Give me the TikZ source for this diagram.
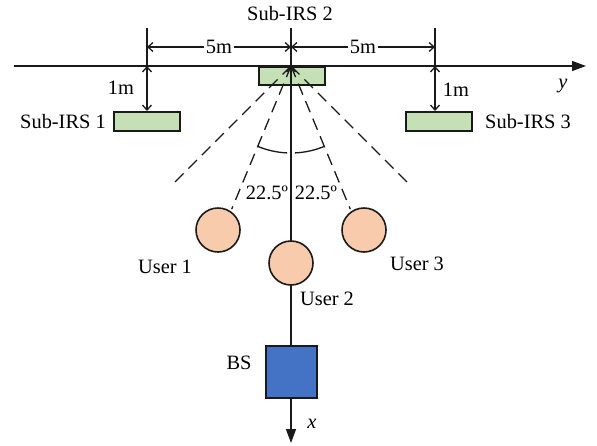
\documentclass[tikz,border=0pt]{standalone}
\usepackage{fontspec}
\setmainfont{Liberation Serif}
\usetikzlibrary{arrows.meta}
\definecolor{irsgreen}{HTML}{C5E0B4}
\definecolor{userpeach}{HTML}{F8CBAD}
\definecolor{bsblue}{HTML}{4472C4}
\definecolor{edgecol}{HTML}{1A1A1A}
\begin{document}
\begin{tikzpicture}[x=0.5pt,y=0.5pt,
  font=\fontsize{10.2}{12}\selectfont,
  thinline/.style={line width=0.65pt, draw=edgecol},
  irsbox/.style={draw=edgecol, line width=1pt, fill=irsgreen, minimum width=33pt, minimum height=9pt, inner sep=0pt},
  userdot/.style={circle, draw=edgecol, line width=0.8pt, fill=userpeach, minimum size=22pt, inner sep=0pt},
  bsbox/.style={draw=edgecol, line width=1pt, fill=bsblue, minimum width=25.5pt, minimum height=26pt, inner sep=0pt},
  dimarrow/.style={thinline, {Straight Barb[length=2.5pt,width=4.5pt]}-{Straight Barb[length=2.5pt,width=4.5pt]}},
  axisarrow/.style={thinline, -{Triangle[length=7pt,width=5pt]}},
  beam/.style={thinline, dash pattern=on 6pt off 3.5pt},
  lbl/.style={inner sep=1pt}
]
\useasboundingbox (0,0) rectangle (597,-445);
% coordinates
\coordinate (O) at (291,-66);
\coordinate (yL) at (14,-66);
\coordinate (yR) at (586,-66);
\coordinate (xT) at (291,-28);
\coordinate (xB) at (291,-443);
\coordinate (tLt) at (147,-28);
\coordinate (tLb) at (147,-66);
\coordinate (tRt) at (435,-28);
\coordinate (tRb) at (435,-66);
\coordinate (dL) at (147,-47);
\coordinate (dM) at (291,-47);
\coordinate (dR) at (435,-47);
% axes
\draw[axisarrow] (yL) -- (yR);
\draw[axisarrow] (xT) -- (xB);
\draw[thinline] (tLt) -- (tLb);
\draw[thinline] (tRt) -- (tRb);
% dimension lines
\draw[dimarrow] (dL) -- node[fill=white, lbl] {5m} (dM);
\draw[dimarrow] (dM) -- node[fill=white, lbl] {5m} (dR);
% IRS boxes
\node[irsbox] (irs2) at (291.5,-75.5) {};
\node[irsbox, minimum height=9.5pt] (irs1) at (147,-121.5) {};
\node[irsbox, minimum height=9.5pt] (irs3) at (438.5,-121.5) {};
\draw[dimarrow] (tLb) -- (irs1.north -| tLb);
\draw[dimarrow] (tRb) -- (irs3.north -| tRb);
% beams
\path (O) ++(225:170) coordinate (b1);
\path (O) ++(247.5:155) coordinate (b2);
\path (O) ++(292.5:155) coordinate (b3);
\path (O) ++(315:170) coordinate (b4);
\draw[beam] (O) -- (b1);
\draw[beam] (O) -- (b2);
\draw[beam] (O) -- (b3);
\draw[beam] (O) -- (b4);
% angle arcs
\draw[thinline] (O) ++(247.5:87) arc[start angle=247.5, end angle=267.5, radius=43.5pt];
\draw[thinline] (O) ++(272.5:87) arc[start angle=272.5, end angle=292.5, radius=43.5pt];
% users and BS
\node[userdot] (u1) at (218,-230) {};
\node[userdot] (u2) at (291,-263) {};
\node[userdot] (u3) at (364,-230) {};
\node[bsbox] (bs) at (291.5,-372) {};
\draw[thinline, -{Straight Barb[length=2.5pt,width=4.5pt]}] (u2.north) -- (O);
% labels
\node[lbl] (lirs2) at (290,-14) {Sub-IRS 2};
\node[lbl] (lirs1) at (63,-122) {Sub-IRS 1};
\node[lbl] (lirs3) at (528,-122) {Sub-IRS 3};
\node[lbl] (l1m1) at (121,-88) {1m};
\node[lbl] (l1m2) at (456,-90) {1m};
\node[lbl] (ly) at (563,-86) {\itshape y};
\node[lbl] (lx) at (312,-424) {\itshape x};
\node[lbl] (la1) at (267,-193) {22.5º};
\node[lbl] (la2) at (316,-193) {22.5º};
\node[lbl] (lu1) at (165,-267) {User 1};
\node[lbl] (lu2) at (327,-299) {User 2};
\node[lbl] (lu3) at (417,-264) {User 3};
\node[lbl] (lbs) at (239,-363) {BS};
\end{tikzpicture}
\end{document}
